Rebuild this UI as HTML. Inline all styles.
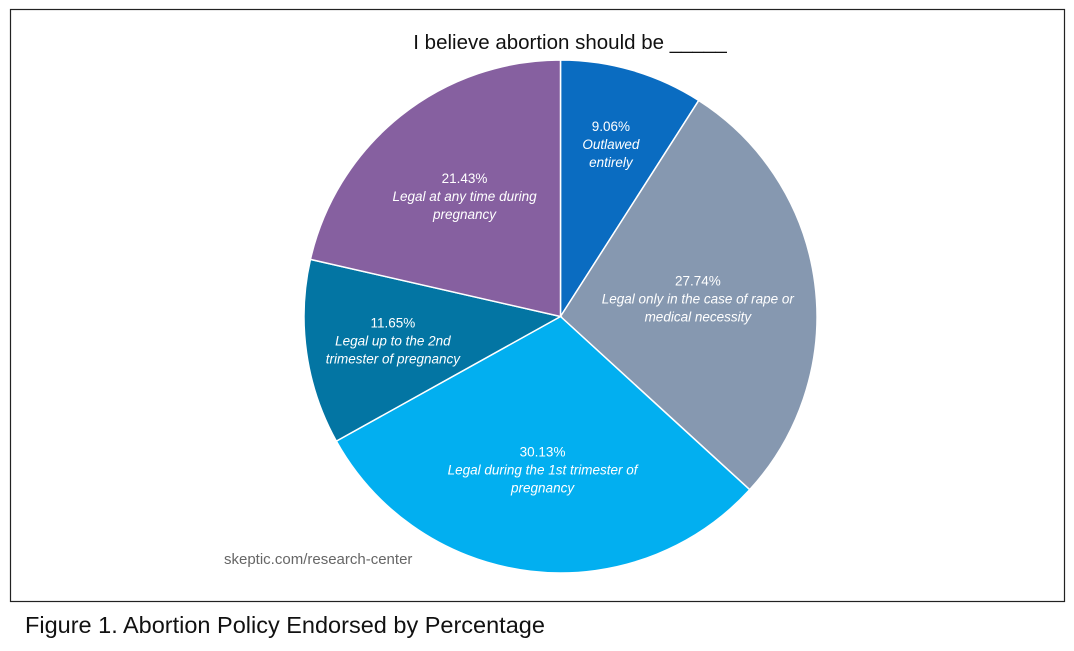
<!DOCTYPE html>
<html><head><meta charset="utf-8"><style>
body{margin:0;background:#fff;width:1074px;height:646px;overflow:hidden;font-family:"Liberation Sans",sans-serif}
</style></head><body>
<svg width="1074" height="646">
<rect x="10.5" y="9.5" width="1054" height="592" fill="#fff" stroke="#222" stroke-width="1.2"/>
<text x="570" y="49" text-anchor="middle" font-size="20.5" fill="#111">I believe abortion should be _____</text>
<g id="pie"></g>
<text x="224" y="564" font-size="15" fill="#666">skeptic.com/research-center</text>
<text x="25" y="633" font-size="23.5" fill="#111">Figure 1. Abortion Policy Endorsed by Percentage</text>
</svg>
<script>
const values=[9.06,27.74,30.13,11.65,21.43];
const pctLabels=["9.06%","27.74%","30.13%","11.65%","21.43%"];
const descLabels=[["Outlawed","entirely"],["Legal only in the case of rape or","medical necessity"],["Legal during the 1st trimester of","pregnancy"],["Legal up to the 2nd","trimester of pregnancy"],["Legal at any time during","pregnancy"]];
const colors=["#0a6cc1","#8698b0","#02aff0","#0375a3","#8660a0"];
const names=["outlawed","rape-or-medical","first-trimester","second-trimester","any-time"];
const labelR=[0.7,0.54,0.6,0.66,0.6];
const cx=560.5,cy=316.5,R=256.5;
const total=values.reduce((a,b)=>a+b,0);
const g=document.getElementById('pie');
const ns='http://www.w3.org/2000/svg';
const pt=(a,r)=>[cx+r*Math.sin(a),cy-r*Math.cos(a)];
let cum=0;
values.forEach((v,i)=>{
  const a0=cum/total*2*Math.PI; cum+=v; const a1=cum/total*2*Math.PI;
  const [x0,y0]=pt(a0,R),[x1,y1]=pt(a1,R);
  const p=document.createElementNS(ns,'path');
  p.setAttribute('d',`M${cx},${cy}L${x0},${y0}A${R},${R} 0 ${a1-a0>Math.PI?1:0} 1 ${x1},${y1}Z`);
  p.setAttribute('fill',colors[i]);p.setAttribute('stroke','#fff');p.setAttribute('stroke-width','1.5');
  
  
  g.appendChild(p);
  const am=(a0+a1)/2;const [lx,ly]=pt(am,R*labelR[i]);
  const t=document.createElementNS(ns,'text');
  t.setAttribute('text-anchor','middle');t.setAttribute('fill','#fff');t.setAttribute('font-size','13.5');
  
  
  const lines=[pctLabels[i],...descLabels[i]];
  lines.forEach((s,j)=>{
    const ts=document.createElementNS(ns,'tspan');
    ts.setAttribute('x',lx);ts.setAttribute('y',ly-13+j*18);
    if(j>0)ts.setAttribute('font-style','italic');
    ts.textContent=s;t.appendChild(ts);
  });
  g.appendChild(t);
});
</script>
</body></html>
